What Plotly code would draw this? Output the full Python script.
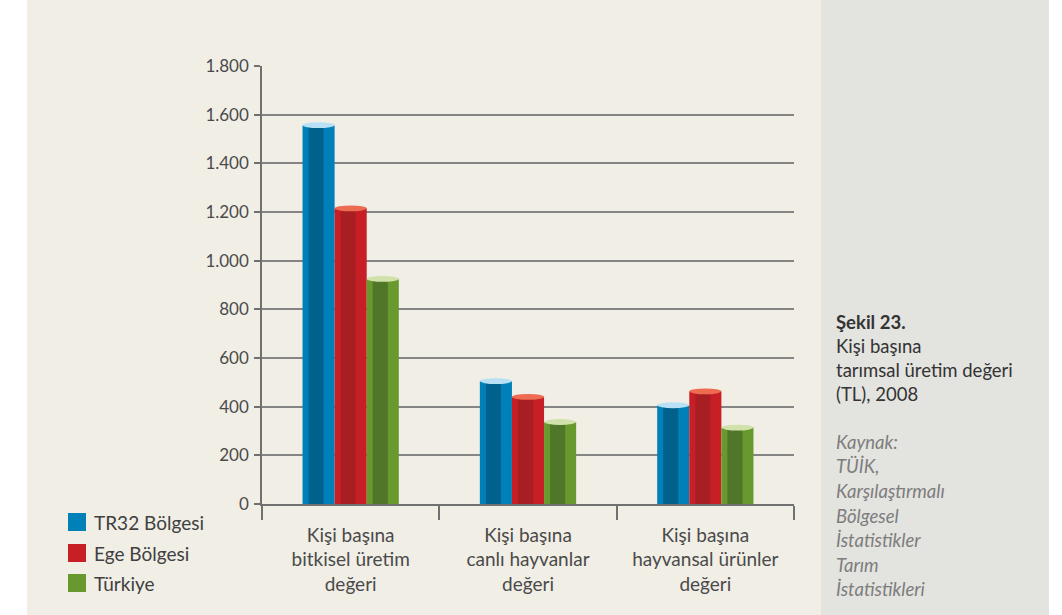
import plotly.graph_objects as go

categories = ["Kişi başına<br>bitkisel üretim<br>değeri",
              "Kişi başına<br>canlı hayvanlar<br>değeri",
              "Kişi başına<br>hayvansal ürünler<br>değeri"]
series_names = ["TR32 Bölgesi", "Ege Bölgesi", "Türkiye"]
tr32 = [1557, 505, 406]
ege = [1215, 440, 463]
turkiye = [925, 337, 314]
series_values = [tr32, ege, turkiye]
y_ticks = [0, 200, 400, 600, 800, 1000, 1200, 1400, 1600, 1800]

mid_colors = ["#0080b8", "#c81f27", "#67992f"]
dark_colors = ["#00628c", "#a71f23", "#4f7629"]
top_colors = ["#b8e1f6", "#ec6b51", "#d0e1a9"]

FONT = "Lato"
BAR_W = 0.181
DARK_START = BAR_W * 6 / 32
DARK_W = BAR_W * 15 / 32
ELL_H = 12  # data units half-height of top ellipse

fig = go.Figure()
shapes = []

# background panels (paper coords relative to plot area)
L, R, T, B = 262, 268, 66, 111
W = 1062 - L - R
H = 615 - T - B
def px(x):
    return (x - L) / W
def py(y):
    return (615 - B - y) / H

shapes.append(dict(type="rect", xref="paper", yref="paper", x0=px(27), x1=px(821),
                   y0=py(615), y1=py(0), fillcolor="#f1eee6", line_width=0, layer="below"))
shapes.append(dict(type="rect", xref="paper", yref="paper", x0=px(821), x1=px(1049),
                   y0=py(615), y1=py(0), fillcolor="#e3e3df", line_width=0, layer="below"))

for i, (name, vals) in enumerate(zip(series_names, series_values)):
    off = -1.5 * BAR_W + i * BAR_W
    fig.add_trace(go.Bar(x=categories, y=vals, name=name, width=BAR_W, offset=off,
                         marker=dict(color=mid_colors[i], line_width=0), showlegend=False,
                         hoverinfo="y"))
    fig.add_trace(go.Bar(x=categories, y=vals, name=name, width=DARK_W, offset=off + DARK_START,
                         marker=dict(color=dark_colors[i], line_width=0), showlegend=False,
                         hoverinfo="skip"))
    for c, v in enumerate(vals):
        shapes.append(dict(type="circle", xref="x", yref="y",
                           x0=c + off, x1=c + off + BAR_W, y0=v - ELL_H, y1=v + ELL_H,
                           fillcolor=top_colors[i], line_width=0, layer="above"))

annotations = []
# custom legend
leg_y = [522, 553, 583]
for i, name in enumerate(series_names):
    shapes.append(dict(type="rect", xref="paper", yref="paper", x0=px(68), x1=px(86),
                       y0=py(leg_y[i] + 9), y1=py(leg_y[i] - 9), fillcolor=mid_colors[i],
                       line_width=0))
    annotations.append(dict(text=name, xref="paper", yref="paper", x=px(92), y=py(leg_y[i]),
                            xanchor="left", yanchor="middle", showarrow=False,
                            font=dict(family=FONT, size=19, color="#404040")))

# right panel caption
caption = [("<b>Şekil 23.</b>", 322), ("Kişi başına", 346), ("tarımsal üretim değeri", 370),
           ("(TL), 2008", 394)]
source = [("Kaynak:", 442), ("TÜİK,", 466), ("Karşılaştırmalı", 491), ("Bölgesel", 516),
          ("İstatistikler", 540), ("Tarım", 565), ("İstatistikleri", 589)]
for t, y in caption:
    annotations.append(dict(text=t, xref="paper", yref="paper", x=px(834), y=py(y),
                            xanchor="left", yanchor="middle", showarrow=False,
                            font=dict(family=FONT, size=18.5, color="#333333")))
for t, y in source:
    annotations.append(dict(text="<i>" + t + "</i>", xref="paper", yref="paper", x=px(834), y=py(y),
                            xanchor="left", yanchor="middle", showarrow=False,
                            font=dict(family=FONT, size=18.5, color="#7d7d7d")))

fig.update_layout(
    width=1062, height=615,
    margin=dict(l=L, r=R, t=T, b=B, pad=0),
    paper_bgcolor="white", plot_bgcolor="rgba(0,0,0,0)",
    barmode="overlay", separators=",.",
    shapes=shapes, annotations=annotations, showlegend=False,
    font=dict(family=FONT, color="#4a4a4a"),
)
fig.update_yaxes(range=[0, 1800], tickvals=y_ticks, tickformat=",d",
                 showgrid=True, gridcolor="#858585", gridwidth=1.5,
                 showline=True, linecolor="#707070", linewidth=1.5,
                 ticks="outside", ticklen=6, tickcolor="#707070", tickwidth=1.5,
                 ticklabelstandoff=2,
                 zeroline=False, tickfont=dict(family=FONT, size=17, color="#4a4a4a"))
fig.update_xaxes(type="category", range=[-0.5, 2.5], tickson="boundaries",
                 showline=True, linecolor="#707070", linewidth=1.5,
                 ticks="outside", ticklen=14, tickcolor="#707070", tickwidth=1.5,
                 ticklabelstandoff=13,
                 showgrid=False, tickfont=dict(family=FONT, size=19, color="#4a4a4a"))

fig.write_html("out.html", config={"displayModeBar": False},
               post_script="document.body.style.margin='0';document.body.style.overflow='hidden';")
